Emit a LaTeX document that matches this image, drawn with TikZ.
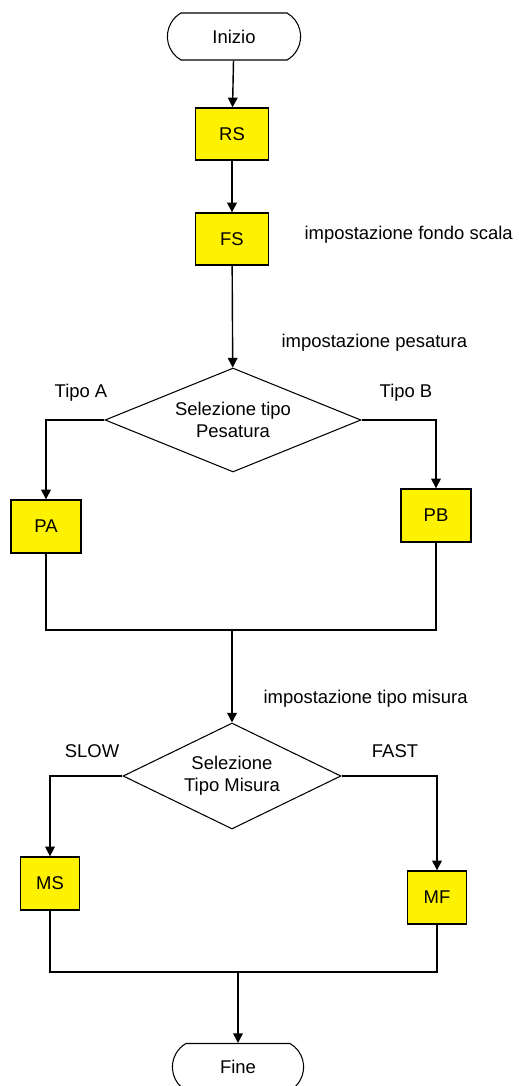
\documentclass[tikz,border=0pt]{standalone}
\usepackage{fontspec}
\setmainfont{Liberation Sans}
\usepackage{tikz}
\usetikzlibrary{
  shapes.geometric
  , shapes.misc
  , calc
  % for the arrow heads
  , arrows.meta
}

\begin{document}
\begin{tikzpicture}[x=0.02cm, y=-0.02cm,
    font=\fontsize{10.5}{12.5}\selectfont,
    line width=0.8pt,
    >={Triangle[width=5.5pt,length=5.5pt]}]
      \useasboundingbox (0, 0) rectangle (518, 1086);
      \def\BoxColor {yellow};

      % terminals
      \node [draw,
        rounded rectangle,
        rounded rectangle arc length=120,
        line width=0.6pt,
        minimum width=29mm,
        minimum height=9.4mm,
      ] (Start) at (234, 36.5){Inizio};
      \node [draw,
        rounded rectangle,
        rounded rectangle arc length=120,
        line width=0.6pt,
        minimum width=28.6mm,
        minimum height=9.4mm,
      ] (End) at (238, 1067){Fine};

      % first steps
      \node [draw,
        fill=\BoxColor,
        rectangle,
        minimum width=14.6mm,
        minimum height=10.4mm,
      ] (RS) at (232, 134){RS};
      \node [draw,
        fill=\BoxColor,
        rectangle,
        minimum width=14.6mm,
        minimum height=10.4mm,
      ] (FS) at (232, 239){FS};
      \node[right] (FSText) at (298, 235) {impostazione fondo scala};

      % weighting choice
      \node [draw,
        diamond,
        aspect=2.46,
        inner sep=0pt,
        line width=0.6pt,
        minimum width=51.2mm,
        minimum height=20.8mm,
        align=center,
      ] (SelP) at (233, 420){Selezione tipo\\Pesatura};
      \node[right] (PText) at (275, 343) {impostazione pesatura};
      \node (TipoA) at (81, 393) {Tipo A};
      \node (TipoB) at (406, 393) {Tipo B};

      \node [draw,
        fill=\BoxColor,
        rectangle,
        minimum width=14mm,
        minimum height=10.6mm,
      ] (PA) at (46, 526.5){PA};
      \node [draw,
        fill=\BoxColor,
        rectangle,
        minimum width=14mm,
        minimum height=10.6mm,
      ] (PB) at (436, 515.5){PB};
      \coordinate (JoinP) at (232, 630);

      % measure choice
      \node [draw,
        diamond,
        aspect=2.06,
        inner sep=0pt,
        line width=0.6pt,
        minimum width=43.6mm,
        minimum height=21.2mm,
        align=center,
      ] (SelM) at (232, 776){Selezione\\Tipo Misura};
      \node[right] (MText) at (257, 699) {impostazione tipo misura};
      \node (Slow) at (92, 751) {SLOW};
      \node (Fast) at (395, 751) {FAST};

      \node [draw,
        fill=\BoxColor,
        rectangle,
        minimum width=11.8mm,
        minimum height=10.6mm,
      ] (MS) at (50, 883.5){MS};
      \node [draw,
        fill=\BoxColor,
        rectangle,
        minimum width=11.8mm,
        minimum height=10.6mm,
      ] (MF) at (437, 897.5){MF};
      \coordinate (JoinM) at (238, 972);

      % connectors
      \draw[->] (Start) -- (RS);
      \draw[->] (RS) -- (FS);
      \draw[->] (FS) -- (SelP);
      \draw[->] (SelP.west) -| (PA.north);
      \draw[->] (SelP.east) -| (PB.north);
      \draw (PA.south) |- (JoinP);
      \draw (PB.south) |- (JoinP);
      \draw[->] (JoinP) -- (SelM.north);
      \draw[->] (SelM.west) -| (MS.north);
      \draw[->] (SelM.east) -| (MF.north);
      \draw (MS.south) |- (JoinM);
      \draw (MF.south) |- (JoinM);
      \draw[->] (JoinM) -- (End.north -| JoinM);

    \end{tikzpicture}
\end{document}
